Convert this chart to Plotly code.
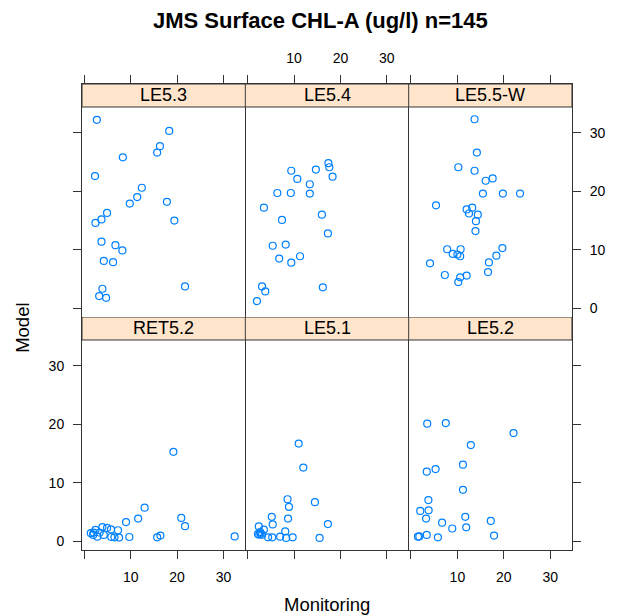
import plotly.graph_objects as go

# ---------------- data ----------------
panels = ["LE5.3", "LE5.4", "LE5.5-W", "RET5.2", "LE5.1", "LE5.2"]

le53_x = [2.7, 18.3, 16.3, 15.7, 8.3, 2.3, 12.4, 11.4, 9.8, 17.8, 4.9, 3.7, 2.4, 19.4, 3.7, 6.7, 8.2, 4.2, 6.2, 21.7, 3.9, 3.2, 4.7]
le53_y = [32.2, 30.3, 27.7, 26.6, 25.8, 22.6, 20.6, 19.0, 17.9, 18.2, 16.3, 15.2, 14.6, 15.0, 11.4, 10.8, 9.9, 8.1, 7.9, 3.75, 3.35, 2.1, 1.8]

le54_x = [17.4, 17.6, 18.3, 14.7, 9.4, 10.7, 13.4, 13.4, 6.4, 9.3, 3.5, 16.0, 7.4, 17.3, 5.4, 8.2, 6.8, 11.3, 9.4, 16.2, 3.1, 3.8, 2.0]
le54_y = [24.8, 24.1, 22.5, 23.7, 23.5, 22.1, 21.2, 19.6, 19.7, 19.7, 17.2, 16.0, 15.1, 12.8, 10.7, 10.9, 8.5, 8.9, 7.8, 3.6, 3.75, 2.9, 1.25]

le55w_x = [13.7, 14.2, 10.2, 13.7, 17.6, 16.1, 15.5, 19.8, 23.5, 5.4, 12.0, 13.2, 12.5, 14.4, 14.0, 13.9, 19.7, 7.8, 10.7, 9.0, 10.0, 10.6, 18.4, 16.8, 4.1, 16.6, 7.3, 12.0, 10.6, 10.2]
le55w_y = [32.3, 26.6, 24.1, 23.5, 22.2, 21.8, 19.6, 19.6, 19.6, 17.6, 16.9, 17.2, 16.2, 16.0, 14.9, 13.2, 10.3, 10.1, 10.1, 9.3, 9.2, 8.9, 9.0, 7.85, 7.7, 6.2, 5.7, 5.6, 5.3, 4.5]

ret52_x = [19.2, 13.0, 11.6, 9.0, 20.9, 21.7, 32.4, 9.7, 16.4, 15.7, 3.9, 2.4, 4.9, 5.75, 7.25, 1.4, 1.9, 2.8, 4.2, 5.8, 6.5, 7.5, 3.3, 2.0]
ret52_y = [15.3, 5.75, 3.9, 3.3, 4.0, 2.6, 0.85, 0.75, 1.0, 0.7, 2.45, 1.95, 2.3, 2.05, 1.9, 1.4, 1.1, 0.8, 1.1, 0.75, 0.7, 0.65, 1.5, 1.5]

le51_x = [11.0, 12.0, 8.6, 8.9, 14.5, 8.7, 5.2, 5.4, 17.3, 2.4, 3.5, 2.7, 2.5, 3.1, 8.1, 4.4, 5.3, 7.0, 8.3, 9.7, 15.5, 2.2, 2.8]
le51_y = [16.7, 12.6, 7.2, 5.9, 6.7, 3.9, 4.2, 2.9, 2.95, 2.55, 2.0, 1.6, 1.15, 1.15, 1.7, 0.7, 0.7, 0.8, 0.6, 0.7, 0.6, 1.25, 1.3]

le52_x = [3.5, 7.5, 22.1, 12.9, 11.2, 3.4, 5.3, 11.2, 3.75, 2.0, 3.8, 3.25, 11.7, 6.7, 17.2, 8.9, 11.9, 3.4, 1.8, 1.5, 5.8, 17.9]
le52_y = [20.1, 20.2, 18.5, 16.45, 13.1, 11.9, 12.35, 8.8, 7.05, 5.2, 5.3, 3.9, 4.2, 3.2, 3.5, 2.2, 2.4, 1.1, 0.85, 0.8, 0.7, 1.0]

xs = [le53_x, le54_x, le55w_x, ret52_x, le51_x, le52_x]
ys = [le53_y, le54_y, le55w_y, ret52_y, le51_y, le52_y]

tick_vals = [0, 10, 20, 30]
x_tick_text = ["", "10", "20", "30"]
y_tick_text = ["0", "10", "20", "30"]

title_text = "JMS Surface CHL-A (ug/l) n=145"
x_title = "Monitoring"
y_title = "Model"

# ---------------- layout geometry ----------------
W, H = 621, 616
OFF = 8  # page body margin offset
L, R, T, B = 82 - OFF, 572 - OFF, 84 - OFF, 550.3 - OFF
FONT = "Liberation Sans, Arial, sans-serif"
LINE = "#333333"
PT_COLOR = "#0080ff"
STRIP = "#ffe5cc"

XMIN, XMAX = -0.5, 34.7
row_h = (B - T) / 2.0
strip_h = 23.0
panel_h = row_h - strip_h
YMIN = -1.47
ppu = 5.86
YPMAX = YMIN + panel_h / ppu
YTOP = YMIN + row_h / ppu

def px_x(p):
    return (p - OFF - L) / (R - L)

def px_y(p):
    return (B - (p - OFF)) / (B - T)

fig = go.Figure()
layout = dict(
    width=W, height=H,
    margin=dict(l=L, r=W - R, t=T, b=H - B, autoexpand=False),
    paper_bgcolor="white", plot_bgcolor="white",
    showlegend=False,
    font=dict(family=FONT, size=14, color="black"),
)

shapes = []
annotations = []

for i in range(6):
    n = i + 1
    row = 0 if i < 3 else 1  # 0 top, 1 bottom
    col = i % 3
    xk = "xaxis" if n == 1 else f"xaxis{n}"
    yk = "yaxis" if n == 1 else f"yaxis{n}"
    xr = "x" if n == 1 else f"x{n}"
    yr = "y" if n == 1 else f"y{n}"

    fig.add_trace(go.Scatter(
        x=xs[i], y=ys[i], mode="markers", xaxis=xr, yaxis=yr,
        marker=dict(symbol="circle-open", size=7, color=PT_COLOR,
                    line=dict(width=1.2, color=PT_COLOR)),
        hoverinfo="x+y",
    ))

    xdom = [col / 3.0, (col + 1) / 3.0]
    ydom = [0.5, 1.0] if row == 0 else [0.0, 0.5]

    if row == 0:
        show_xlab = (col == 1)
        xside = "top"
        xmirror = True
    else:
        show_xlab = (col != 1)
        xside = "bottom"
        xmirror = False

    layout[xk] = dict(
        domain=xdom, range=[XMIN, XMAX], anchor=yr, side=xside,
        showgrid=False, zeroline=False, showline=True, mirror=xmirror,
        linecolor=LINE, linewidth=1,
        ticks="outside", ticklen=8, tickwidth=1, tickcolor=LINE,
        tickmode="array", tickvals=tick_vals, ticktext=x_tick_text,
        showticklabels=show_xlab, tickfont=dict(size=14, color="black"),
        ticklabelstandoff=6,
    )

    if col == 0:
        yside, yticks, show_ylab, yline = "left", "outside", (row == 1), True
    elif col == 2:
        yside, yticks, show_ylab, yline = "right", "outside", (row == 0), True
    else:
        yside, yticks, show_ylab, yline = "left", "", False, False

    layout[yk] = dict(
        domain=ydom, range=[YMIN, YTOP], anchor=xr, side=yside,
        showgrid=False, zeroline=False, showline=yline, mirror=True,
        linecolor=LINE, linewidth=1,
        ticks=yticks, ticklen=8, tickwidth=1, tickcolor=LINE,
        tickmode="array", tickvals=tick_vals, ticktext=y_tick_text,
        showticklabels=show_ylab, tickfont=dict(size=14, color="black"),
        ticklabelstandoff=6,
    )

    shapes.append(dict(
        type="rect", xref=xr, yref=yr, x0=XMIN, x1=XMAX, y0=YPMAX, y1=YTOP,
        fillcolor=STRIP, line=dict(color=LINE, width=1), layer="above",
    ))
    annotations.append(dict(
        text=panels[i], xref=xr, yref=yr, x=(XMIN + XMAX) / 2, y=(YPMAX + YTOP) / 2,
        showarrow=False, xanchor="center", yanchor="middle",
        font=dict(family=FONT, size=18, color="black"),
    ))

annotations.append(dict(
    text="<b>" + title_text + "</b>", xref="paper", yref="paper",
    x=px_x(320.5), y=px_y(20), showarrow=False, xanchor="center", yanchor="middle",
    font=dict(family=FONT, size=22, color="black"),
))
annotations.append(dict(
    text=x_title, xref="paper", yref="paper",
    x=px_x(327), y=px_y(605), showarrow=False, xanchor="center", yanchor="middle",
    font=dict(family=FONT, size=18.5, color="black"),
))
annotations.append(dict(
    text=y_title, xref="paper", yref="paper",
    x=px_x(23), y=px_y(328), showarrow=False, xanchor="center", yanchor="middle",
    textangle=-90, font=dict(family=FONT, size=18.5, color="black"),
))

layout["shapes"] = shapes
layout["annotations"] = annotations
fig.update_layout(**layout)
fig.write_html("out.html")
